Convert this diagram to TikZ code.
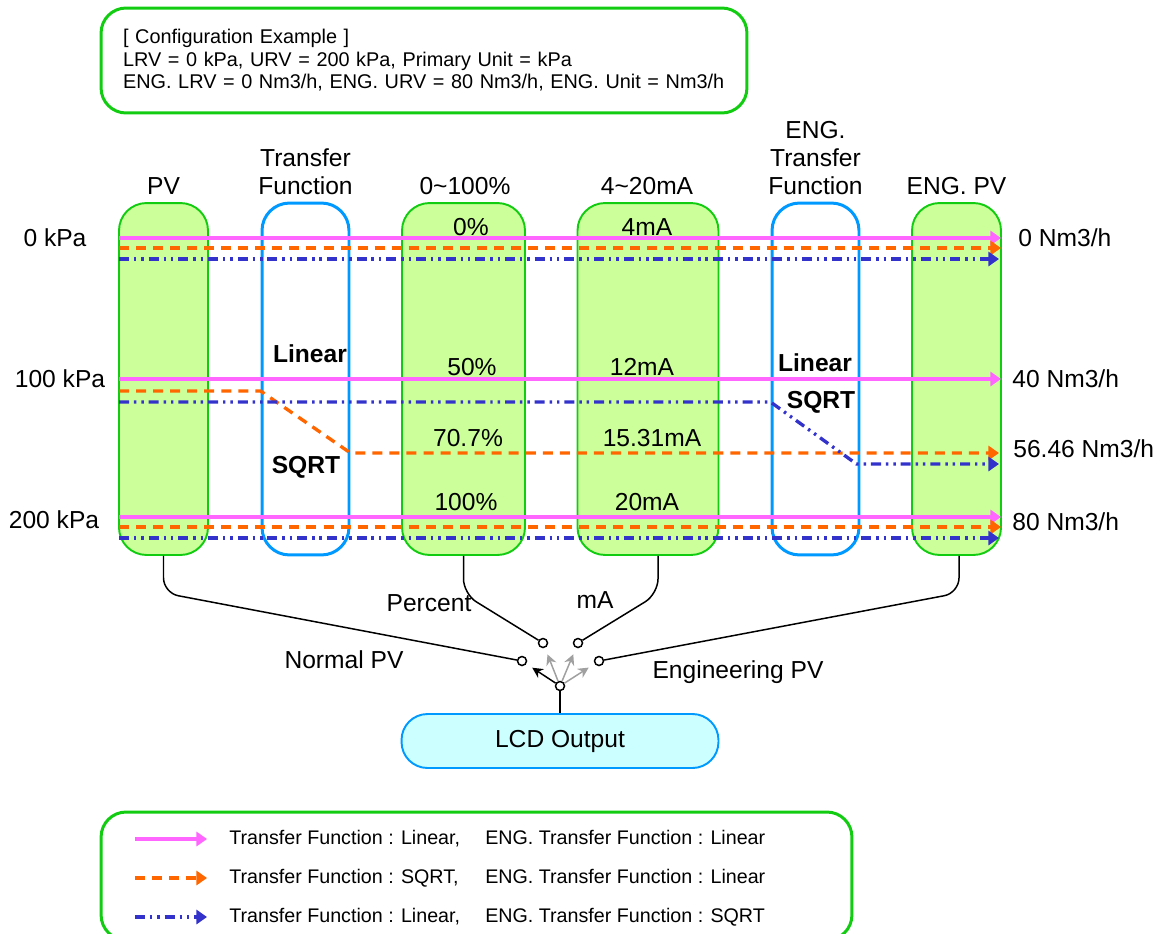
\documentclass[tikz,border=0pt]{standalone}
\usepackage{fontspec}
\setmainfont{Liberation Sans}
\usetikzlibrary{arrows.meta}
\definecolor{GF}{HTML}{CCFF99}
\definecolor{GB}{HTML}{11CC11}
\definecolor{BL}{HTML}{0099FF}
\definecolor{CY}{HTML}{CCFFFF}
\definecolor{PK}{HTML}{FF66FF}
\definecolor{OR}{HTML}{FF6600}
\definecolor{DB}{HTML}{3333CC}
\definecolor{AG}{HTML}{A0A0A0}
\tikzset{
  col/.style={draw=GB, fill=GF, line width=1.1pt, rounded corners=0.55cm, minimum height=7.04cm},
  fcol/.style={draw=BL, line width=1.7pt, rounded corners=0.55cm, minimum height=7.04cm, minimum width=1.74cm},
  lbl/.style={font=\fontsize{14}{16}\selectfont, inner sep=0pt},
  hdr/.style={lbl, anchor=south, align=center},
  fn/.style={lbl, font=\fontsize{14}{16}\selectfont\bfseries},
  cfgbox/.style={draw=GB, line width=1.7pt, rounded corners=0.5cm, minimum width=12.92cm, minimum height=2.1cm, text width=12.04cm, align=left, font=\fontsize{11.3}{12.8}\selectfont},
  legbox/.style={draw=GB, line width=1.7pt, rounded corners=0.5cm, minimum width=15.02cm, minimum height=2.56cm},
  legtxt/.style={anchor=west, inner sep=0pt, font=\fontsize{11.2}{13}\selectfont},
  lnA/.style={draw=PK, line width=1.9pt, -{Triangle[length=6pt,width=8pt]}},
  lnB/.style={draw=OR, line width=1.9pt, dash pattern=on 5.7pt off 4pt, -{Triangle[length=6pt,width=8pt]}},
  lnC/.style={draw=DB, line width=1.9pt, dash pattern=on 5.7pt off 2.8pt on 1.4pt off 2.8pt on 1.4pt off 2.8pt, -{Triangle[length=6pt,width=8pt]}},
  wire/.style={line width=0.85pt, rounded corners=0.3cm},
  pin/.style={circle, draw, fill=white, line width=0.85pt, inner sep=0pt, minimum size=0.18cm},
  sel/.style={line width=0.85pt, shorten >=0.14cm, -{Stealth[length=6pt,width=6pt]}},
  lcdbox/.style={draw=BL, fill=CY, line width=1.1pt, rounded corners=0.52cm, minimum width=6.34cm, minimum height=1.08cm, font=\fontsize{14}{16}\selectfont}
}

\begin{document}
\begin{tikzpicture}[x=0.02cm, y=-0.02cm]%
\useasboundingbox (0,0) rectangle (1162,933);%
% configuration
\node[cfgbox] (cfg) at (424,60.5) {[ Configuration Example ]\\LRV = 0 kPa, URV = 200 kPa, Primary Unit = kPa\\ENG. LRV = 0 Nm3/h, ENG. URV = 80 Nm3/h, ENG. Unit = Nm3/h};%
% columns
\node[col, minimum width=1.78cm] (pv) at (163.5,379) {};%
\node[fcol] (tf) at (305.5,379) {};%
\node[col, minimum width=2.46cm] (pct) at (463.5,379) {};%
\node[col, minimum width=2.82cm] (ma) at (648,379) {};%
\node[fcol] (etf) at (815.5,379) {};%
\node[col, minimum width=1.78cm] (epv) at (956.5,379) {};%
\node[hdr] (hpv) at (163.5,195) {PV};%
\node[hdr] (htf) at (305.5,195) {Transfer\\Function};%
\node[hdr] (hpct) at (465,195) {0\textasciitilde100\%};%
\node[hdr] (hma) at (647,195) {4\textasciitilde20mA};%
\node[hdr] (hetf) at (815.5,195) {ENG.\\Transfer\\Function};%
\node[hdr] (hepv) at (956.5,195) {ENG. PV};%
% values
\node[lbl] (l0) at (55,238) {0 kPa};%
\node[lbl] (l1) at (60,379) {100 kPa};%
\node[lbl] (l2) at (54,520) {200 kPa};%
\node[lbl, anchor=west] (r0) at (1018,238) {0 Nm3/h};%
\node[lbl, anchor=west] (r1) at (1012,379) {40 Nm3/h};%
\node[lbl, anchor=west] (r2) at (1013,449) {56.46 Nm3/h};%
\node[lbl, anchor=west] (r3) at (1012,522) {80 Nm3/h};%
\node[lbl] (v0) at (471,227) {0\%};%
\node[lbl] (m0) at (647,227) {4mA};%
\node[lbl] (v1) at (472,367) {50\%};%
\node[lbl] (m1) at (642,367) {12mA};%
\node[lbl] (v2) at (468,438) {70.7\%};%
\node[lbl] (m2) at (652,438) {15.31mA};%
\node[lbl] (v3) at (466,502) {100\%};%
\node[lbl] (m3) at (647,502) {20mA};%
\node[fn] (tlin) at (310,354) {Linear};%
\node[fn] (tsq) at (306,467) {SQRT};%
\node[fn] (elin) at (815,363) {Linear};%
\node[fn] (esq) at (821,402) {SQRT};%
% flow lines
\coordinate (pk0a) at (119,238); \coordinate (pk0b) at (1001,238);%
\coordinate (or0a) at (119,248); \coordinate (or0b) at (1001,248);%
\coordinate (bl0a) at (119,259); \coordinate (bl0b) at (999,259);%
\coordinate (pk1a) at (119,379); \coordinate (pk1b) at (1001,379);%
\coordinate (or1a) at (119,391); \coordinate (or1b) at (999,453);%
\coordinate (bl1a) at (119,402); \coordinate (bl1b) at (999,464);%
\coordinate (pk2a) at (119,517); \coordinate (pk2b) at (1001,517);%
\coordinate (or2a) at (119,527); \coordinate (or2b) at (1001,527);%
\coordinate (bl2a) at (119,538); \coordinate (bl2b) at (999,538);%
\draw[lnA] (pk0a) -- (pk0b);%
\draw[lnB] (or0a) -- (or0b);%
\draw[lnC] (bl0a) -- (bl0b);%
\draw[lnA] (pk1a) -- (pk1b);%
\draw[lnB] (or1a) -- (tf.west |- or1a) -- (tf.east |- or1b) -- (or1b);%
\draw[lnC] (bl1a) -- (etf.west |- bl1a) -- ([xshift=-0.08cm]etf.east |- bl1b) -- (bl1b);%
\draw[lnA] (pk2a) -- (pk2b);%
\draw[lnB] (or2a) -- (or2b);%
\draw[lnC] (bl2a) -- (bl2b);%
% output select
\node[pin] (cn) at (522,661) {};%
\node[pin] (cp) at (543,643) {};%
\node[pin] (cm) at (578,643) {};%
\node[pin] (ce) at (599,661) {};%
\node[pin] (cs) at (560,686) {};%
\node[lcdbox] (lcd) at (560,741) {LCD Output};%
\draw[wire] (pv.south) -- ++(0,37) -- (cn);%
\draw[wire] (pct.south) -- ++(0,38) -- (cp);%
\draw[wire] ([xshift=0.2cm]ma.south) -- ++(0,38) -- (cm);%
\draw[wire] ([xshift=0.05cm]epv.south) -- ++(0,37) -- (ce);%
\draw[wire] (cs) -- (lcd);%
\draw[sel] (cs) -- (cn);%
\draw[sel, AG] (cs) -- (cp);%
\draw[sel, AG] (cs) -- (cm);%
\draw[sel, AG] (cs) -- (ce);%
\node[lbl] (lpct) at (429,603) {Percent};%
\node[lbl] (lma) at (595,600) {mA};%
\node[lbl] (lnpv) at (344,660) {Normal PV};%
\node[lbl] (lepv) at (738,672) {Engineering PV};%
% legend
\node[legbox] (leg) at (476.5,876) {};%
\coordinate (k1a) at (135,839); \coordinate (k1b) at (207,839);%
\coordinate (k2a) at (135,878); \coordinate (k2b) at (207,878);%
\coordinate (k3a) at (135,917); \coordinate (k3b) at (207,917);%
\draw[lnA] (k1a) -- (k1b);%
\draw[lnB] (k2a) -- (k2b);%
\draw[lnC] (k3a) -- (k3b);%
\node[legtxt] (t1) at (229,839) {\makebox[5.12cm][l]{Transfer Function : Linear,}ENG. Transfer Function : Linear};%
\node[legtxt] (t2) at (229,878) {\makebox[5.12cm][l]{Transfer Function : SQRT,}ENG. Transfer Function : Linear};%
\node[legtxt] (t3) at (229,917) {\makebox[5.12cm][l]{Transfer Function : Linear,}ENG. Transfer Function : SQRT};%
\end{tikzpicture}
\end{document}
